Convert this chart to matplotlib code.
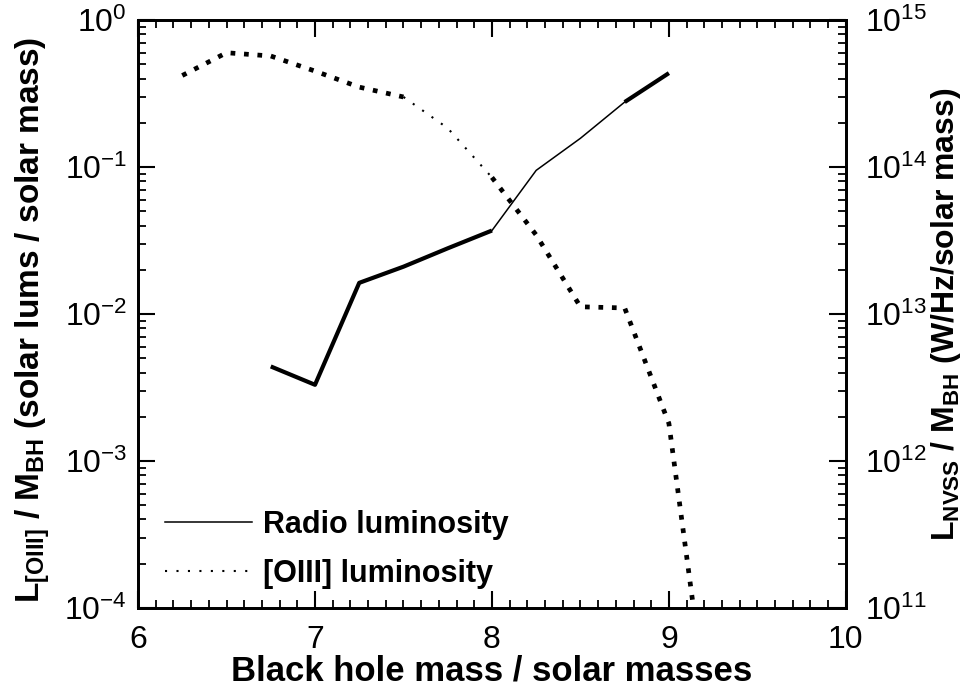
import numpy as np
import matplotlib
matplotlib.use("Agg")
import matplotlib.pyplot as plt
from matplotlib.ticker import MultipleLocator, FixedLocator, NullFormatter

plt.rcParams['font.family'] = ['Liberation Sans', 'DejaVu Sans']
plt.rcParams['mathtext.fontset'] = 'custom'
plt.rcParams['mathtext.rm'] = 'Liberation Sans'
plt.rcParams['mathtext.default'] = 'regular'

# [OIII] luminosity per unit black hole mass (solar lums / solar mass)
mass_oiii = [6.25, 6.5, 6.75, 7.0, 7.25, 7.5, 7.75, 8.0, 8.25, 8.5, 8.75, 9.0, 9.25]
lum_oiii = [0.42, 0.60, 0.57, 0.45, 0.35, 0.30, 0.184, 0.085, 0.0345,
            0.0112, 0.0110, 1.8e-3, 1.0e-5]

# NVSS radio luminosity per unit black hole mass (W/Hz / solar mass)
mass_radio = [6.75, 7.0, 7.25, 7.5, 7.75, 8.0, 8.25, 8.5, 8.75, 9.0]
lum_radio = [4.4e12, 3.3e12, 1.63e13, 2.1e13, 2.8e13, 3.7e13,
             9.5e13, 1.57e14, 2.77e14, 4.36e14]

fig = plt.figure(figsize=(9.79, 6.94), dpi=100)
ax = fig.add_axes([0.141, 0.124, 0.723, 0.847])
ax2 = ax.twinx()

ax.set_xlim(6, 10)
ax.set_yscale('log')
ax.set_ylim(1e-4, 1)
ax2.set_yscale('log')
ax2.set_ylim(1e11, 1e15)

# ticks: 0.1 steps on the mass axis, 2..9 per decade on both log axes
ax.xaxis.set_major_locator(MultipleLocator(1))
ax.xaxis.set_minor_locator(MultipleLocator(0.1))
for a, (lo, hi) in ((ax, (-4, 0)), (ax2, (11, 15))):
    minor = np.outer(10.0 ** np.arange(lo, hi), np.arange(2, 10)).ravel()
    a.yaxis.set_minor_locator(FixedLocator(minor))
    a.yaxis.set_minor_formatter(NullFormatter())
    a.tick_params(which='major', direction='in', length=12, width=1.5, labelsize=23)
    a.tick_params(which='minor', direction='in', length=6, width=1.3)
ax.tick_params(which='both', top=True, right=False)
fig.canvas.draw()

# dotted [OIII] curve, thinner over the 7.5-8 stretch
dot_thick = dict(color='black', lw=3.4, linestyle=(0, (1, 1.85)), dash_capstyle='butt')
dot_thin = dict(color='black', lw=1.5, linestyle=(0, (1, 4.5)), dash_capstyle='butt')
ax.plot(mass_oiii[:6], lum_oiii[:6], **dot_thick)
ax.plot(mass_oiii[5:8], lum_oiii[5:8], label='[OIII] luminosity', **dot_thin)
ax.plot(mass_oiii[7:], lum_oiii[7:], **dot_thick)

# solid radio curve, thin between 8 and 8.75
ax2.plot(mass_radio[:6], lum_radio[:6], color='black', lw=3.0, solid_capstyle='butt')
ax2.plot(mass_radio[5:9], lum_radio[5:9], color='black', lw=1.1,
         label='Radio luminosity')
ax2.plot(mass_radio[8:], lum_radio[8:], color='black', lw=3.0, solid_capstyle='butt')

for a in (ax, ax2):
    for s in a.spines.values():
        s.set_linewidth(2)
ax.tick_params(axis='x', pad=12)
ax.tick_params(axis='y', pad=8)
ax2.tick_params(axis='y', pad=14)

ax.set_xlabel('Black hole mass / solar masses', fontsize=25, fontweight='bold')
ax.xaxis.set_label_coords(0.5, -0.079)
ax.set_ylabel('L$_{[OIII]}$ / M$_{BH}$ (solar lums / solar mass)',
              fontsize=24, fontweight='bold')
ax.yaxis.set_label_coords(-0.122, 0.49)
ax2.set_ylabel('L$_{NVSS}$ / M$_{BH}$ (W/Hz/solar mass)',
               fontsize=23, fontweight='bold')
ax2.yaxis.set_label_coords(1.118, 0.5)

h1, lab1 = ax2.get_legend_handles_labels()
h2, lab2 = ax.get_legend_handles_labels()
ax.legend(h1 + h2, lab1 + lab2, loc='lower left', frameon=False,
          prop={'size': 22, 'weight': 'bold'}, handlelength=2.85,
          handletextpad=0.35, labelspacing=0.62, borderpad=0,
          borderaxespad=0, bbox_to_anchor=(0.038, 0.033))

fig.canvas.draw()
fig.savefig('out.png', dpi=100)
